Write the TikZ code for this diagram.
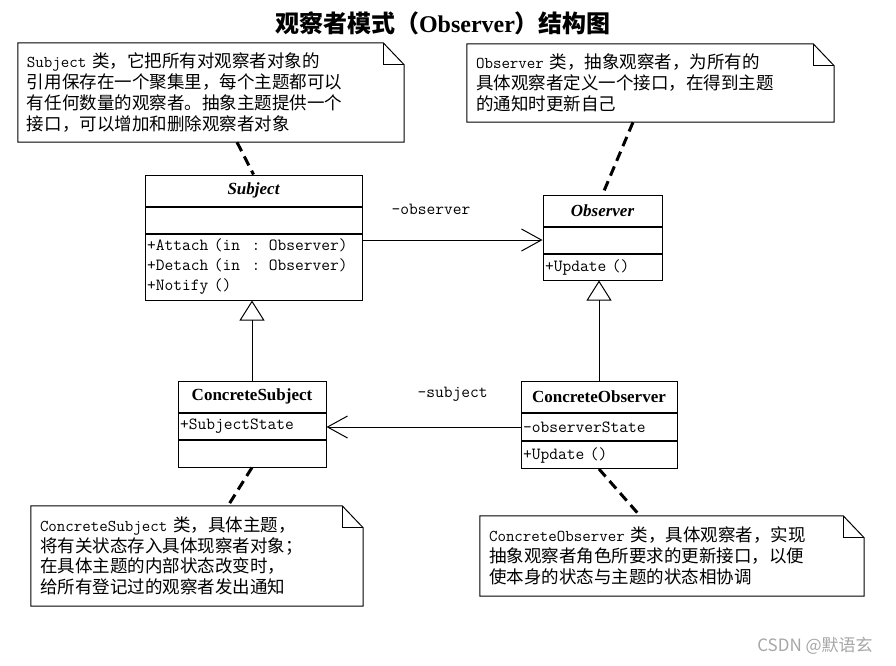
\documentclass[tikz,border=0pt]{standalone}
\usepackage{fontspec}
\setmainfont{Liberation Serif}
\newfontfamily\cjk{Noto Sans CJK SC}
\usetikzlibrary{positioning, arrows.meta}

\newcommand{\lat}[1]{{\ttfamily\fontsize{16.5}{20.7}\selectfont #1}}
\newcommand{\foldnote}[1]{%
  \draw[noteline] (#1.north west) -- ([xshift=-21pt]#1.north east) -- ([yshift=-22pt]#1.north east) -- (#1.south east) -- (#1.south west) -- cycle;
  \draw[noteline] ([xshift=-21pt]#1.north east) |- ([yshift=-22pt]#1.north east);
}

\tikzset{
  clsname/.style={draw, line width=1pt, minimum height=31pt, inner sep=0pt, font=\fontsize{17}{20}\selectfont\bfseries},
  clspart/.style={draw, line width=1pt, minimum height=26pt, inner xsep=2pt, inner ysep=0pt, align=left, font=\ttfamily\fontsize{17}{20}\selectfont},
  note/.style={inner xsep=9pt, inner ysep=0pt, align=left, font=\fontsize{17.5}{20.7}\selectfont\cjk},
  noteline/.style={line width=1pt},
  notelink/.style={line width=3pt, dash pattern=on 10pt off 6pt},
  inherit/.style={line width=1pt, -{Triangle[open, length=20pt, width=25pt]}},
  assoc/.style={line width=1pt, -{Straight Barb[length=20pt, width=22pt]}},
  role/.style={font=\ttfamily\fontsize{17}{20}\selectfont},
}

\begin{document}
\begin{tikzpicture}[x=1pt, y=-1pt]
\useasboundingbox (0,0) rectangle (896,665);

% title
\node[font=\fontsize{24}{28}\selectfont\bfseries] (title) at (443,23) {{\cjk 观察者模式（}Observer{\cjk ）结构图}};

% classes
\node[clsname, minimum width=217pt, font=\fontsize{17}{20}\selectfont\bfseries\itshape] (subj) at (253.5,190.5) {Subject};
\node[clspart, text width=213pt] (subjattr) [below=0pt of subj] {};
\node[clspart, text width=213pt, minimum height=66pt] (subjops) [below=0pt of subjattr] {+Attach (in~~: Observer)\\+Detach (in~~: Observer)\\+Notify ()};

\node[clsname, minimum width=119pt, font=\fontsize{17}{20}\selectfont\bfseries\itshape] (obs) at (602.5,210.5) {Observer};
\node[clspart, text width=115pt] (obsattr) [below=0pt of obs] {};
\node[clspart, text width=115pt] (obsops) [below=0pt of obsattr] {+Update ()};

\node[clsname, minimum width=148pt] (csubj) at (252,396.5) {ConcreteSubject};
\node[clspart, text width=144pt] (csubjattr) [below=0pt of csubj] {+SubjectState};
\node[clspart, text width=144pt, minimum height=27pt] (csubjops) [below=0pt of csubjattr] {};

\node[clsname, minimum width=156pt] (cobs) at (599,397) {ConcreteObserver};
\node[clspart, text width=152pt, minimum height=27pt] (cobsattr) [below=0pt of cobs] {-observerState};
\node[clspart, text width=152pt, minimum height=27pt] (cobsops) [below=0pt of cobsattr] {+Update ()};

% notes
\node[note, text width=368pt, minimum height=99pt] (nsubj) at (211,92.5) {\lat{Subject} 类，它把所有对观察者对象的\\引用保存在一个聚集里，每个主题都可以\\有任何数量的观察者。抽象主题提供一个\\接口，可以增加和删除观察者对象};
\node[note, text width=349pt, minimum height=78pt] (nobs) at (650.5,83) {\lat{Observer} 类，抽象观察者，为所有的\\具体观察者定义一个接口，在得到主题\\的通知时更新自己};
\node[note, text width=314pt, minimum height=100pt] (ncsubj) at (197,556) {\lat{ConcreteSubject} 类，具体主题，\\将有关状态存入具体现察者对象；\\在具体主题的内部状态改变时，\\给所有登记过的观察者发出通知};
\node[note, text width=366pt, minimum height=80pt] (ncobs) at (672,556) {\lat{ConcreteObserver} 类，具体观察者，实现\\抽象观察者角色所要求的更新接口，以便\\使本身的状态与主题的状态相协调};
\foldnote{nsubj}
\foldnote{nobs}
\foldnote{ncsubj}
\foldnote{ncobs}

% links
\draw[notelink] ([xshift=26pt]nsubj.south) -- (subj.north);
\draw[notelink] ([xshift=-17.5pt]nobs.south) -- (obs.north);
\draw[notelink] (csubjops.south) -- ([xshift=31pt]ncsubj.north);
\draw[notelink] (cobsops.south) -- ([xshift=-32pt]ncobs.north);

\draw[inherit] (csubj.north) -- (csubj.north |- subjops.south);
\draw[inherit] (cobs.north) -- (cobs.north |- obsops.south);

\draw[assoc] (obsattr.west -| subjops.east) -- (obsattr.west) node[role, pos=0.38, above=22pt] {-observer};
\draw[assoc] (cobsattr.west) -- (cobsattr.west -| csubjattr.east) node[role, pos=0.35, above=22pt] {-subject};

% watermark
\node[font=\fontsize{17}{20}\selectfont\cjk, text=gray!70] (mark) at (815,646) {CSDN @默语玄};
\end{tikzpicture}
\end{document}
